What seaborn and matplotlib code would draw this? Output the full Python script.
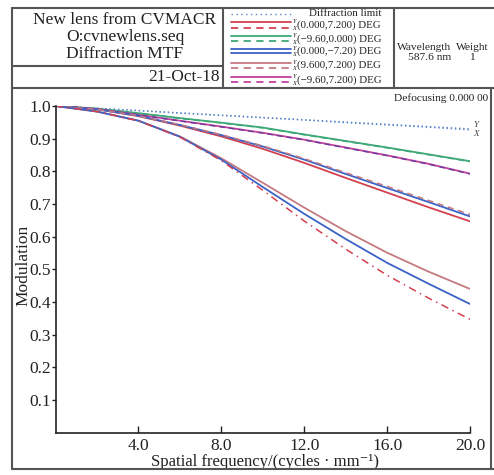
import matplotlib
matplotlib.use("Agg")
import matplotlib.pyplot as plt
from matplotlib.lines import Line2D
import seaborn as sns
import pandas as pd

# ---------------- data ----------------
freq = [0, 2, 4, 6, 8, 10, 12, 14, 16, 18, 20]
diff_T = [1.0, 0.993, 0.986, 0.979, 0.972, 0.965, 0.958, 0.951, 0.944, 0.937, 0.930]
diff_S = [1.0, 0.993, 0.986, 0.978, 0.971, 0.964, 0.957, 0.949, 0.942, 0.935, 0.927]
red_T = [1.0, 0.990, 0.969, 0.940, 0.907, 0.869, 0.826, 0.780, 0.735, 0.690, 0.647]
red_S = [1.0, 0.983, 0.955, 0.905, 0.833, 0.742, 0.648, 0.562, 0.482, 0.412, 0.347]
green_T = [1.0, 0.992, 0.978, 0.963, 0.949, 0.934, 0.913, 0.893, 0.873, 0.852, 0.831]
green_S = [1.0, 0.992, 0.978, 0.962, 0.948, 0.933, 0.912, 0.892, 0.872, 0.851, 0.830]
blue_T = [1.0, 0.990, 0.970, 0.942, 0.911, 0.876, 0.836, 0.792, 0.749, 0.706, 0.662]
blue_S = [1.0, 0.983, 0.955, 0.906, 0.836, 0.752, 0.670, 0.593, 0.520, 0.456, 0.394]
brown_T = [1.0, 0.983, 0.955, 0.907, 0.840, 0.765, 0.689, 0.617, 0.551, 0.493, 0.440]
brown_S = [1.0, 0.990, 0.970, 0.943, 0.912, 0.878, 0.839, 0.796, 0.754, 0.711, 0.668]
mag_T = [1.0, 0.991, 0.973, 0.955, 0.937, 0.918, 0.897, 0.873, 0.849, 0.823, 0.793]
mag_S = [1.0, 0.991, 0.973, 0.954, 0.936, 0.917, 0.896, 0.872, 0.848, 0.822, 0.792]

field_labels = ["(0.000,7.200) DEG", "(\u22129.60,0.000) DEG", "(0.000,\u22127.20) DEG",
                "(9.600,7.200) DEG", "(\u22129.60,7.200) DEG"]
x_ticks = [4.0, 8.0, 12.0, 16.0, 20.0]
y_ticks = [0.1, 0.2, 0.3, 0.4, 0.5, 0.6, 0.7, 0.8, 0.9, 1.0]

# ---------------- style ----------------
sns.set_theme(style="white")
plt.rcParams['font.family'] = ['Liberation Serif', 'DejaVu Serif']

W, H = 494, 475
fig = plt.figure(figsize=(W / 100, H / 100), dpi=100)

def fx(x):
    return x / W

def fy(y):
    return 1 - y / H

c_diff = "#5b86c9"
c_red = "#d2414f"
c_green = "#3da877"
c_blue = "#3b63c6"
c_brown = "#c47a80"
c_mag = "#c2409e"

dash = (4, 3)
dashdot = (5, 3, 1, 3)

ax = fig.add_axes([fx(55.5), fy(432.7), fx(470) - fx(55.5), fy(106) - fy(432.7)])

series = [
    (diff_T, c_diff, (1, 2), 1.0),
    (diff_S, c_diff, (1, 2), 1.0),
    (green_T, c_green, None, 1.3),
    (green_S, c_green, dash, 1.1),
    (mag_T, c_mag, None, 1.3),
    (mag_S, "#6a3a9a", dash, 1.0),
    (red_T, c_red, None, 1.3),
    (blue_T, c_blue, None, 1.3),
    (brown_S, c_brown, dash, 1.1),
    (brown_T, c_brown, None, 1.3),
    (blue_S, c_blue, None, 1.3),
    (red_S, c_red, dashdot, 1.1),
]
for vals, col, ls, lw in series:
    df = pd.DataFrame({"f": freq, "m": vals})
    sns.lineplot(data=df, x="f", y="m", ax=ax, color=col, linewidth=lw, legend=False)
    ln = ax.lines[-1]
    if ls is not None:
        ln.set_dashes(ls)

ax.set_xlim(0, 20)
ax.set_ylim(0, 1.0)
ax.set_xticks(x_ticks)
ax.set_xticklabels([f"{v:.1f}" for v in x_ticks])
ax.set_yticks(y_ticks)
ax.set_yticklabels([f"{v:.1f}" for v in y_ticks])
for s in ["top", "right"]:
    ax.spines[s].set_visible(False)
for s in ["left", "bottom"]:
    ax.spines[s].set_color("#222222")
    ax.spines[s].set_linewidth(1.2)
ax.tick_params(axis="x", direction="in", length=5, width=1, colors="#222222",
               labelsize=12.5, pad=4, bottom=True)
ax.tick_params(axis="y", direction="out", length=3, width=1, colors="#222222",
               labelsize=12.5, pad=0.5, left=True)
for t in ax.get_xticklabels() + ax.get_yticklabels():
    t.set_color("#222222")
ax.set_xlabel("Spatial frequency/(cycles \u00b7 mm\u207b\u00b9)", fontsize=12, color="#222222",
              va="center")
ax.xaxis.set_label_coords(0.505, -0.091)
ax.set_ylabel("Modulation", fontsize=12.5, color="#222222", va="center")
ax.yaxis.set_label_coords(-0.078, 0.513)
ax.grid(False)

# Y / X labels at right end of diffraction limit
ax.text(20.15, 0.942, "Y", fontsize=6.5, style="italic", color="#444444", va="center", ha="left")
ax.text(20.15, 0.915, "X", fontsize=6.5, style="italic", color="#444444", va="center", ha="left")

# ---------------- frame / header ----------------
bc = "#555555"
blw = 1.5
def hline(y, x0, x1):
    fig.add_artist(Line2D([fx(x0), fx(x1)], [fy(y), fy(y)], color=bc, lw=blw))
def vline(x, y0, y1):
    fig.add_artist(Line2D([fx(x), fx(x)], [fy(y0), fy(y1)], color=bc, lw=blw))

hline(8, 12, 494)
hline(88, 12, 494)
hline(469, 12, 494)
hline(66, 12, 223)
vline(12, 8, 469)
vline(223, 8, 88)
vline(394, 8, 88)
vline(491, 88, 469)

tc = "#222222"
fig.text(fx(125), fy(20), "New lens from CVMACR", fontsize=12.5, ha="center", va="center", color=tc)
fig.text(fx(125), fy(37), "O:cvnewlens.seq", fontsize=12.5, ha="center", va="center", color=tc)
fig.text(fx(125), fy(54), "Diffraction MTF", fontsize=12.5, ha="center", va="center", color=tc)
fig.text(fx(220), fy(77), "21-Oct-18", fontsize=12.5, ha="right", va="center", color=tc)

# legend
lx0, lx1 = 231, 291
fig.add_artist(Line2D([fx(lx0), fx(lx1)], [fy(14), fy(14)], color=c_diff, lw=1.0, dashes=(1, 2.5)))
fig.text(fx(345), fy(14), "Diffraction limit", fontsize=7.8, ha="center", va="center", color=tc)
rows = [
    (c_red, c_red, dash, 22, 27.5),
    (c_green, c_green, dash, 35.5, 41),
    (c_blue, c_blue, None, 49, 53),
    (c_brown, c_brown, dash, 62.5, 67.5),
    (c_mag, c_mag, dash, 76.5, 82),
]
for (cs, cd, ls, ys, yd), lab in zip(rows, field_labels):
    fig.add_artist(Line2D([fx(lx0), fx(lx1)], [fy(ys), fy(ys)], color=cs, lw=1.3))
    l2 = Line2D([fx(lx0), fx(lx1)], [fy(yd), fy(yd)], color=cd, lw=1.3)
    if ls is not None:
        l2.set_dashes(ls)
    fig.add_artist(l2)
    ym = (ys + yd) / 2 + 0.5
    fig.text(fx(292.5), fy(ym - 3.5), "Y", fontsize=4.5, style="italic", ha="left", va="center", color=tc)
    fig.text(fx(292.5), fy(ym + 3.5), "X", fontsize=4.5, style="italic", ha="left", va="center", color=tc)
    fig.text(fx(297), fy(ym), lab, fontsize=7.8, ha="left", va="center", color=tc)

fig.text(fx(397), fy(47), "Wavelength", fontsize=8.2, ha="left", va="center", color=tc)
fig.text(fx(472), fy(47), "Weight", fontsize=8.2, ha="center", va="center", color=tc)
fig.text(fx(430), fy(58), "587.6 nm", fontsize=8.2, ha="center", va="center", color=tc)
fig.text(fx(472), fy(58), "1", fontsize=8.2, ha="center", va="center", color=tc)

fig.text(fx(488), fy(98), "Defocusing 0.000 00", fontsize=8.2, ha="right", va="center", color=tc)

fig.savefig("out.png", dpi=100)
